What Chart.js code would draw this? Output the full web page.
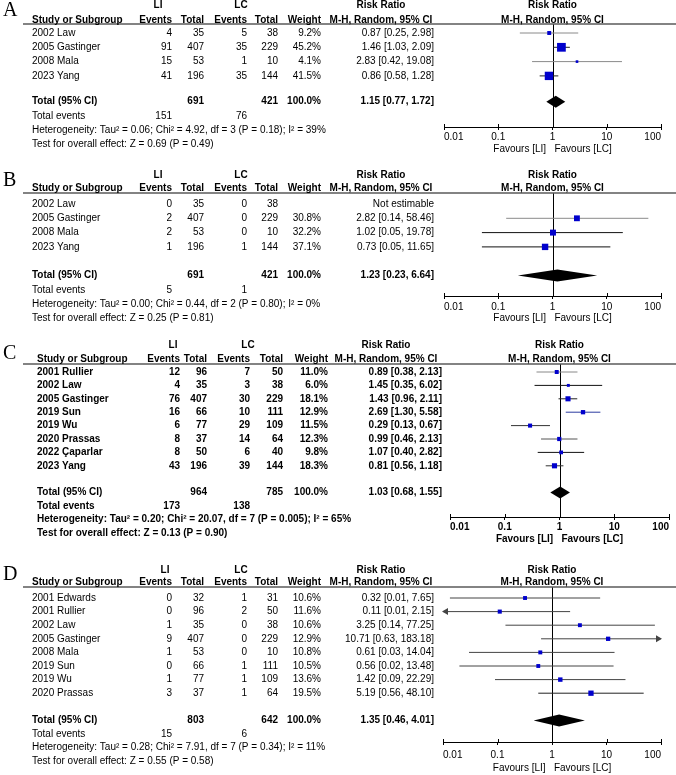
<!DOCTYPE html>
<html><head><meta charset="utf-8">
<script src="https://cdn.jsdelivr.net/npm/chart.js@4.4.0/dist/chart.umd.min.js"></script>
<style>
html,body{margin:0;padding:0;background:#fff;}
#wrap{position:relative;width:676px;height:775px;background:#fff;}
canvas{position:absolute;left:0;top:0;}
</style></head><body><div id="wrap">
<canvas id="cA" width="676" height="775"></canvas>
<canvas id="cB" width="676" height="775"></canvas>
<canvas id="cC" width="676" height="775"></canvas>
<canvas id="cD" width="676" height="775"></canvas>
</div>
<script>
// ---------- DATA ----------
const tickVals = [0.01, 0.1, 1, 10, 100];

// Panel A
const studiesA = ['2002 Law', '2005 Gastinger', '2008 Mala', '2023 Yang'];
const evLI_A = [4, 91, 15, 41];
const totLI_A = [35, 407, 53, 196];
const evLC_A = [5, 35, 1, 35];
const totLC_A = [38, 229, 10, 144];
const weightA = [9.2, 45.2, 4.1, 41.5];
const rrA = [0.87, 1.46, 2.83, 0.86];
const loA = [0.25, 1.03, 0.42, 0.58];
const hiA = [2.98, 2.09, 19.08, 1.28];
const pooledA = [1.15, 0.77, 1.72];
const totalsA = [691, 421, 151, 76];
const hetA = 'Heterogeneity: Tau\u00b2 = 0.06; Chi\u00b2 = 4.92, df = 3 (P = 0.18); I\u00b2 = 39%';
const testA = 'Test for overall effect: Z = 0.69 (P = 0.49)';

// Panel B
const studiesB = ['2002 Law', '2005 Gastinger', '2008 Mala', '2023 Yang'];
const evLI_B = [0, 2, 2, 1];
const totLI_B = [35, 407, 53, 196];
const evLC_B = [0, 0, 0, 1];
const totLC_B = [38, 229, 10, 144];
const weightB = [null, 30.8, 32.2, 37.1];
const rrB = [null, 2.82, 1.02, 0.73];
const loB = [null, 0.14, 0.05, 0.05];
const hiB = [null, 58.46, 19.78, 11.65];
const pooledB = [1.23, 0.23, 6.64];
const totalsB = [691, 421, 5, 1];
const hetB = 'Heterogeneity: Tau\u00b2 = 0.00; Chi\u00b2 = 0.44, df = 2 (P = 0.80); I\u00b2 = 0%';
const testB = 'Test for overall effect: Z = 0.25 (P = 0.81)';

// Panel C
const studiesC = ['2001 Rullier', '2002 Law', '2005 Gastinger', '2019 Sun', '2019 Wu', '2020 Prassas', '2022 \u00c7aparlar', '2023 Yang'];
const evLI_C = [12, 4, 76, 16, 6, 8, 8, 43];
const totLI_C = [96, 35, 407, 66, 77, 37, 50, 196];
const evLC_C = [7, 3, 30, 10, 29, 14, 6, 39];
const totLC_C = [50, 38, 229, 111, 109, 64, 40, 144];
const weightC = [11.0, 6.0, 18.1, 12.9, 11.5, 12.3, 9.8, 18.3];
const rrC = [0.89, 1.45, 1.43, 2.69, 0.29, 0.99, 1.07, 0.81];
const loC = [0.38, 0.35, 0.96, 1.30, 0.13, 0.46, 0.40, 0.56];
const hiC = [2.13, 6.02, 2.11, 5.58, 0.67, 2.13, 2.82, 1.18];
const pooledC = [1.03, 0.68, 1.55];
const totalsC = [964, 785, 173, 138];
const hetC = 'Heterogeneity: Tau\u00b2 = 0.20; Chi\u00b2 = 20.07, df = 7 (P = 0.005); I\u00b2 = 65%';
const testC = 'Test for overall effect: Z = 0.13 (P = 0.90)';

// Panel D
const studiesD = ['2001 Edwards', '2001 Rullier', '2002 Law', '2005 Gastinger', '2008 Mala', '2019 Sun', '2019 Wu', '2020 Prassas'];
const evLI_D = [0, 0, 1, 9, 1, 0, 1, 3];
const totLI_D = [32, 96, 35, 407, 53, 66, 77, 37];
const evLC_D = [1, 2, 0, 0, 0, 1, 1, 1];
const totLC_D = [31, 50, 38, 229, 10, 111, 109, 64];
const weightD = [10.6, 11.6, 10.6, 12.9, 10.8, 10.5, 13.6, 19.5];
const rrD = [0.32, 0.11, 3.25, 10.71, 0.61, 0.56, 1.42, 5.19];
const loD = [0.0134, 0.0056, 0.14, 0.63, 0.03, 0.02, 0.09, 0.56];
const hiD = [7.65, 2.15, 77.25, 183.18, 14.04, 13.48, 22.29, 48.10];
const pooledD = [1.35, 0.46, 4.01];
const totalsD = [803, 642, 15, 6];
const hetD = 'Heterogeneity: Tau\u00b2 = 0.28; Chi\u00b2 = 7.91, df = 7 (P = 0.34); I\u00b2 = 11%';
const testD = 'Test for overall effect: Z = 0.55 (P = 0.58)';

// ---------- LAYOUT / STYLE ----------
const FAM = '"Liberation Sans", Arial, sans-serif';
const SERIF = '"Liberation Serif", "Times New Roman", serif';
const W = 676, H = 775;

const layoutA = {letter:'A', letterY:11, hdr1:5, hdr2:20, line:24, row0:33, pitch:14.3, gap:0.8,
  axis:127, fitH:28, tickPad:1, left:444, right:661, bold:false, nameX:32,
  cols:[172,204,247,278,321], liX:158, lcX:241, ciX:434, rrX:381, sq:1.3,
  ciColors:['#8a8a8a','#222','#8a8a8a','#222']};
const layoutB = {letter:'B', letterY:181, hdr1:175, hdr2:188.5, line:193, row0:204, pitch:14.3, gap:1,
  axis:296, fitH:28, tickPad:2, left:444, right:661, bold:false, nameX:32,
  cols:[172,204,247,278,321], liX:158, lcX:241, ciX:434, rrX:381, sq:1.05,
  ciColors:['#000','#8a8a8a','#111','#111']};
const layoutC = {letter:'C', letterY:354, hdr1:345, hdr2:359.5, line:364, row0:372, pitch:13.4, gap:1,
  axis:517, fitH:28, tickPad:1, left:450, right:669, bold:true, nameX:37,
  cols:[180,207,250,283,328], liX:173, lcX:248, ciX:442, rrX:386, sq:1.2,
  ciColors:['#888','#111','#222','#2a3aa0','#333','#555','#111','#333']};
const layoutD = {letter:'D', letterY:575, hdr1:570, hdr2:582.5, line:587, row0:598, pitch:13.6, gap:1,
  axis:742, fitH:32, tickPad:4, left:443, right:661, bold:false, nameX:32,
  cols:[172,204,247,278,321], liX:165, lcX:241, ciX:434, rrX:381, sq:1.2,
  ciColors:['#444','#444','#444','#444','#444','#444','#444','#222']};

const f2 = v => v.toFixed(2);

function txt(ctx, s, x, y, align, bold, size, family) {
  ctx.font = (bold ? 'bold ' : '') + (size || 10) + 'px ' + (family || FAM);
  ctx.textAlign = align;
  ctx.textBaseline = 'middle';
  ctx.fillStyle = '#000';
  ctx.fillText(s, x, y);
}

function makeForestPlugin(L, D) {
  return {
    id: 'forest' + L.letter,
    beforeDatasetsDraw(chart) {
      const {ctx, chartArea: a, scales: {x}} = chart;
      ctx.save();
      ctx.strokeStyle = '#000';
      ctx.lineWidth = 1;
      const x1 = Math.round(x.getPixelForValue(1)) + 0.5;
      ctx.beginPath(); ctx.moveTo(x1, a.top); ctx.lineTo(x1, a.bottom); ctx.stroke();
      ctx.restore();
    },
    afterDatasetsDraw(chart) {
      const {ctx, chartArea: a, scales: {x, y}} = chart;
      const n = D.studies.length;
      ctx.save();
      // pooled diamond
      const ry = y.getPixelForValue(n + L.gap);
      const xl = x.getPixelForValue(D.pooled[1]);
      const xm = x.getPixelForValue(D.pooled[0]);
      const xr = x.getPixelForValue(D.pooled[2]);
      ctx.fillStyle = '#000';
      ctx.beginPath();
      ctx.moveTo(xl, ry); ctx.lineTo(xm, ry - 6); ctx.lineTo(xr, ry); ctx.lineTo(xm, ry + 6); ctx.closePath();
      ctx.fill();
      // arrows for CIs beyond the axis range
      for (let i = 0; i < n; i++) {
        if (D.rr[i] == null) continue;
        const yy = y.getPixelForValue(i);
        ctx.fillStyle = L.ciColors[i];
        if (D.lo[i] < 0.01) {
          ctx.beginPath(); ctx.moveTo(a.left - 1, yy); ctx.lineTo(a.left + 5, yy - 3.5); ctx.lineTo(a.left + 5, yy + 3.5); ctx.closePath(); ctx.fill();
        }
        if (D.hi[i] > 100) {
          ctx.beginPath(); ctx.moveTo(a.right + 1, yy); ctx.lineTo(a.right - 5, yy - 3.5); ctx.lineTo(a.right - 5, yy + 3.5); ctx.closePath(); ctx.fill();
        }
      }
      ctx.restore();
    },
    afterDraw(chart) {
      const {ctx, chartArea: a, scales: {x, y}} = chart;
      const n = D.studies.length;
      const B = L.bold;
      ctx.save();
      // ticks extending above axis
      ctx.strokeStyle = '#000'; ctx.lineWidth = 1;
      tickVals.forEach(v => {
        const px = Math.round(x.getPixelForValue(v)) + 0.5;
        ctx.beginPath(); ctx.moveTo(px, a.bottom - 3); ctx.lineTo(px, a.bottom); ctx.stroke();
      });
      // header rule
      ctx.strokeStyle = '#5a5a5a'; ctx.lineWidth = 1.6;
      ctx.beginPath(); ctx.moveTo(23, L.line); ctx.lineTo(W, L.line); ctx.stroke();
      // panel letter
      txt(ctx, L.letter, 3, L.letterY, 'left', false, 20, SERIF);
      // headers
      const c = L.cols;
      txt(ctx, 'LI', L.liX, L.hdr1, 'center', true);
      txt(ctx, 'LC', L.lcX, L.hdr1, 'center', true);
      txt(ctx, 'Risk Ratio', L.rrX, L.hdr1, 'center', true);
      txt(ctx, 'Risk Ratio', x.getPixelForValue(1), L.hdr1, 'center', true);
      txt(ctx, 'Study or Subgroup', L.nameX, L.hdr2, 'left', true);
      txt(ctx, 'Events', c[0], L.hdr2, 'right', true);
      txt(ctx, 'Total', c[1], L.hdr2, 'right', true);
      txt(ctx, 'Events', c[2], L.hdr2, 'right', true);
      txt(ctx, 'Total', c[3], L.hdr2, 'right', true);
      txt(ctx, 'Weight', c[4], L.hdr2, 'right', true);
      txt(ctx, 'M-H, Random, 95% CI', L.rrX, L.hdr2, 'center', true);
      txt(ctx, 'M-H, Random, 95% CI', x.getPixelForValue(1), L.hdr2, 'center', true);
      // study rows
      for (let i = 0; i < n; i++) {
        const yy = y.getPixelForValue(i);
        txt(ctx, D.studies[i], L.nameX, yy, 'left', B);
        txt(ctx, String(D.evLI[i]), c[0], yy, 'right', B);
        txt(ctx, String(D.totLI[i]), c[1], yy, 'right', B);
        txt(ctx, String(D.evLC[i]), c[2], yy, 'right', B);
        txt(ctx, String(D.totLC[i]), c[3], yy, 'right', B);
        if (D.weight[i] != null) txt(ctx, D.weight[i].toFixed(1) + '%', c[4], yy, 'right', B);
        const ci = D.rr[i] == null ? 'Not estimable' : f2(D.rr[i]) + ' [' + f2(D.lo[i]) + ', ' + f2(D.hi[i]) + ']';
        txt(ctx, ci, L.ciX, yy, 'right', B);
      }
      // summary rows
      const rT = y.getPixelForValue(n + L.gap);
      txt(ctx, 'Total (95% CI)', L.nameX, rT, 'left', true);
      txt(ctx, String(D.totals[0]), c[1], rT, 'right', true);
      txt(ctx, String(D.totals[1]), c[3], rT, 'right', true);
      txt(ctx, '100.0%', c[4], rT, 'right', true);
      txt(ctx, f2(D.pooled[0]) + ' [' + f2(D.pooled[1]) + ', ' + f2(D.pooled[2]) + ']', L.ciX, rT, 'right', true);
      const rE = y.getPixelForValue(n + L.gap + 1);
      txt(ctx, 'Total events', L.nameX, rE, 'left', B);
      txt(ctx, String(D.totals[2]), c[0], rE, 'right', B);
      txt(ctx, String(D.totals[3]), c[2], rE, 'right', B);
      txt(ctx, D.het, L.nameX, y.getPixelForValue(n + L.gap + 2), 'left', B);
      txt(ctx, D.test, L.nameX, y.getPixelForValue(n + L.gap + 3), 'left', B);
      ctx.restore();
    }
  };
}

function makePanel(id, L, D) {
  const n = D.studies.length;
  const datasets = [];
  for (let i = 0; i < n; i++) {
    if (D.rr[i] == null) continue;
    datasets.push({
      data: [{x: D.lo[i], y: i}, {x: D.hi[i], y: i}],
      showLine: true, borderColor: L.ciColors[i], borderWidth: 1,
      pointRadius: 0, fill: false, order: 2
    });
  }
  const pts = [], radii = [];
  for (let i = 0; i < n; i++) {
    if (D.rr[i] == null) continue;
    pts.push({x: D.rr[i], y: i});
    const side = Math.max(2, L.sq * Math.sqrt(D.weight[i]));
    radii.push(side / Math.SQRT2);
  }
  datasets.push({
    data: pts, pointStyle: 'rect', pointRadius: radii, pointBackgroundColor: '#0000cc',
    pointBorderWidth: 0, pointBorderColor: '#0000cc', showLine: false, order: 1
  });
  const font = {family: FAM, size: 10, weight: L.bold ? 'bold' : 'normal'};
  return new Chart(document.getElementById(id), {
    type: 'scatter',
    data: {datasets},
    options: {
      responsive: false, animation: false, devicePixelRatio: 1, events: [],
      layout: {padding: {left: L.left, right: W - L.right, top: L.line, bottom: H - L.axis - L.fitH}},
      plugins: {legend: {display: false}, tooltip: {enabled: false}},
      scales: {
        x: {
          type: 'logarithmic', min: 0.01, max: 100, position: 'bottom',
          afterBuildTicks: s => { s.ticks = tickVals.map(v => ({value: v})); },
          afterFit: s => { s.height = L.fitH; },
          grid: {display: true, drawOnChartArea: false, drawTicks: true, tickLength: 3, color: '#000', lineWidth: 1},
          border: {display: true, color: '#000', width: 1},
          ticks: {autoSkip: false, maxRotation: 0, minRotation: 0, padding: L.tickPad, color: '#000', font,
                  align: 'inner', callback: v => String(v)},
          title: {display: true, text: 'Favours [LI]   Favours [LC]', color: '#000', font, padding: 0}
        },
        y: {
          type: 'linear', reverse: true, display: false,
          min: (L.line - L.row0) / L.pitch, max: (L.axis - L.row0) / L.pitch
        }
      }
    },
    plugins: [makeForestPlugin(L, D)]
  });
}

makePanel('cA', layoutA, {studies: studiesA, evLI: evLI_A, totLI: totLI_A, evLC: evLC_A, totLC: totLC_A,
  weight: weightA, rr: rrA, lo: loA, hi: hiA, pooled: pooledA, totals: totalsA, het: hetA, test: testA});
makePanel('cB', layoutB, {studies: studiesB, evLI: evLI_B, totLI: totLI_B, evLC: evLC_B, totLC: totLC_B,
  weight: weightB, rr: rrB, lo: loB, hi: hiB, pooled: pooledB, totals: totalsB, het: hetB, test: testB});
makePanel('cC', layoutC, {studies: studiesC, evLI: evLI_C, totLI: totLI_C, evLC: evLC_C, totLC: totLC_C,
  weight: weightC, rr: rrC, lo: loC, hi: hiC, pooled: pooledC, totals: totalsC, het: hetC, test: testC});
makePanel('cD', layoutD, {studies: studiesD, evLI: evLI_D, totLI: totLI_D, evLC: evLC_D, totLC: totLC_D,
  weight: weightD, rr: rrD, lo: loD, hi: hiD, pooled: pooledD, totals: totalsD, het: hetD, test: testD});
</script>
</body></html>
